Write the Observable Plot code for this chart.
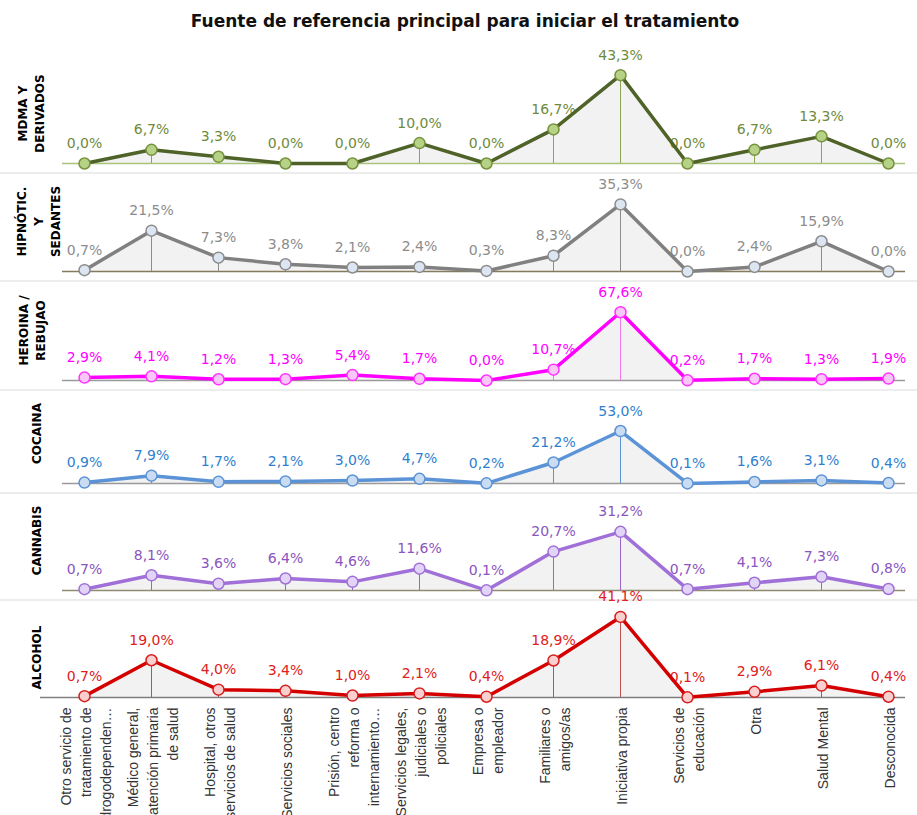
<!DOCTYPE html>
<html><head><meta charset="utf-8">
<script src="https://cdn.jsdelivr.net/npm/d3@7"></script>
<script src="https://cdn.jsdelivr.net/npm/@observablehq/plot@0.6"></script>
<style>
body{margin:0;background:#fff;}
#wrap{position:relative;width:917px;height:815px;overflow:hidden;font-family:"DejaVu Sans",Verdana,sans-serif;}
#title{position:absolute;top:11px;left:0;width:930px;text-align:center;font-weight:bold;font-size:17px;color:#111;}
.panel{position:absolute;left:0;}
.sep{border-bottom:2px solid #ededed;}
</style></head><body>
<div id="wrap"><div id="title">Fuente de referencia principal para iniciar el tratamiento</div></div>
<script>
const categories = [
  "Otro servicio de\ntratamiento de\ndrogodependen…",
  "Médico general,\natención primaria\nde salud",
  "Hospital, otros\nservicios de salud",
  "Servicios sociales",
  "Prisión, centro\nreforma o\ninternamiento…",
  "Servicios legales,\njudiciales o\npoliciales",
  "Empresa o\nempleador",
  "Familiares o\namigos/as",
  "Iniciativa propia",
  "Servicios de\neducación",
  "Otra",
  "Salud Mental",
  "Desconocida"
];
const seriesNames = ["MDMA Y\nDERIVADOS", "HIPNÓTIC.\nY\nSEDANTES", "HEROINA /\nREBUJAO", "COCAINA", "CANNABIS", "ALCOHOL"];
const mdma     = [0.0, 6.7, 3.3, 0.0, 0.0, 10.0, 0.0, 16.7, 43.3, 0.0, 6.7, 13.3, 0.0];
const hipnot   = [0.7, 21.5, 7.3, 3.8, 2.1, 2.4, 0.3, 8.3, 35.3, 0.0, 2.4, 15.9, 0.0];
const heroina  = [2.9, 4.1, 1.2, 1.3, 5.4, 1.7, 0.0, 10.7, 67.6, 0.2, 1.7, 1.3, 1.9];
const cocaina  = [0.9, 7.9, 1.7, 2.1, 3.0, 4.7, 0.2, 21.2, 53.0, 0.1, 1.6, 3.1, 0.4];
const cannabis = [0.7, 8.1, 3.6, 6.4, 4.6, 11.6, 0.1, 20.7, 31.2, 0.7, 4.1, 7.3, 0.8];
const alcohol  = [0.7, 19.0, 4.0, 3.4, 1.0, 2.1, 0.4, 18.9, 41.1, 0.1, 2.9, 6.1, 0.4];

const panels = [
  {values: mdma, top: 63, yMax: 50, h: 102, labelX: 30, labelDy: 0,
   line: "#4f6228", label: "#6f8a3a", dotFill: "#b5d286", dotStroke: "#76923c", drop: "#8aa653", base: "#a9c47a"},
  {values: hipnot, top: 171, yMax: 50, h: 95, labelX: 37, labelDy: 0,
   line: "#808080", label: "#8c8c8c", dotFill: "#dce6f2", dotStroke: "#8c8c8c", drop: "#8c8c8c", base: "#857a5c"},
  {values: heroina, top: 280, yMax: 100, h: 101, labelX: 31, labelDy: 0,
   line: "#ff00ff", label: "#ff00ff", dotFill: "#f8c6f8", dotStroke: "#ff33ff", drop: "#f07af0", base: "#9a9a9a"},
  {values: cocaina, top: 383, yMax: 100, h: 99, labelX: 35, labelDy: 0,
   line: "#5b93d6", label: "#2f7fd0", dotFill: "#cadcf2", dotStroke: "#5b93d6", drop: "#5b93d6", base: "#9a9a9a"},
  {values: cannabis, top: 490, yMax: 50, h: 94, labelX: 35, labelDy: 0,
   line: "#a070d8", label: "#8a55c0", dotFill: "#e2d4f6", dotStroke: "#a070d8", drop: "#9966cc", base: "#8f8a70"},
  {values: alcohol, top: 597, yMax: 50, h: 98, labelX: 35, labelDy: 10,
   line: "#d40000", label: "#e02020", dotFill: "#f9cfcf", dotStroke: "#d81e1e", drop: "#c0504d", base: "#7f7f7f"}
];

const fmt = v => d3.format(".1f")(v).replace(".", ",") + "%";
const wrap = document.getElementById("wrap");

panels.forEach((p, i) => {
  const isLast = i === panels.length - 1;
  const H = isLast ? 225 : 109;
  const mL = isLast ? 40 : 62;
  const data = categories.map((c, j) => ({cat: c, v: p.values[j]}));
  const marks = [
    Plot.areaY(data, {x: "cat", y: "v", fill: "#f2f2f2"}),
    Plot.ruleY([0], {stroke: p.base, strokeWidth: 1.5}),
    Plot.ruleX(data, {x: "cat", y1: 0, y2: "v", stroke: p.drop, strokeWidth: 1}),
    Plot.text(data, {x: "cat", y: "v", text: d => fmt(d.v), fill: p.label, lineAnchor: "middle", dy: -20,
      fontSize: 14, fontFamily: "DejaVu Sans"}),
    Plot.lineY(data, {x: "cat", y: "v", stroke: p.line, strokeWidth: 3.5, strokeLinejoin: "round"}),
    Plot.dot(data, {x: "cat", y: "v", r: 5.5, fill: p.dotFill, stroke: p.dotStroke, strokeWidth: 1.5}),
    Plot.text([seriesNames[i]], {frameAnchor: "left", dx: p.labelX - mL, dy: p.labelDy, rotate: -90,
      textAnchor: "middle", lineAnchor: "middle", lineHeight: 1.4, fontSize: 12, fontWeight: "bold",
      fontFamily: "DejaVu Sans", fill: "#000"})
  ];
  if (isLast) {
    marks.push(Plot.text(categories, {x: d => d, y: () => 0, dy: 10, rotate: -90, textAnchor: "end",
      lineAnchor: "middle", lineHeight: 1.45, fontSize: 14, fontFamily: "Liberation Sans", fill: "#333"}));
  }
  const chart = Plot.plot({
    width: 917, height: H,
    marginLeft: mL, marginRight: 12, marginTop: 0, marginBottom: H - 100,
    x: {type: "point", domain: categories, range: [80, 892], padding: 0, axis: null},
    y: {domain: [0, p.yMax], range: [100, 100 - p.h], axis: null},
    style: {overflow: "visible", background: "transparent"},
    marks
  });
  const div = document.createElement("div");
  div.className = "panel" + (isLast ? "" : " sep");
  div.style.top = p.top + "px";
  div.style.height = H + "px";
  div.appendChild(chart);
  wrap.appendChild(div);
});
</script>
</body></html>
